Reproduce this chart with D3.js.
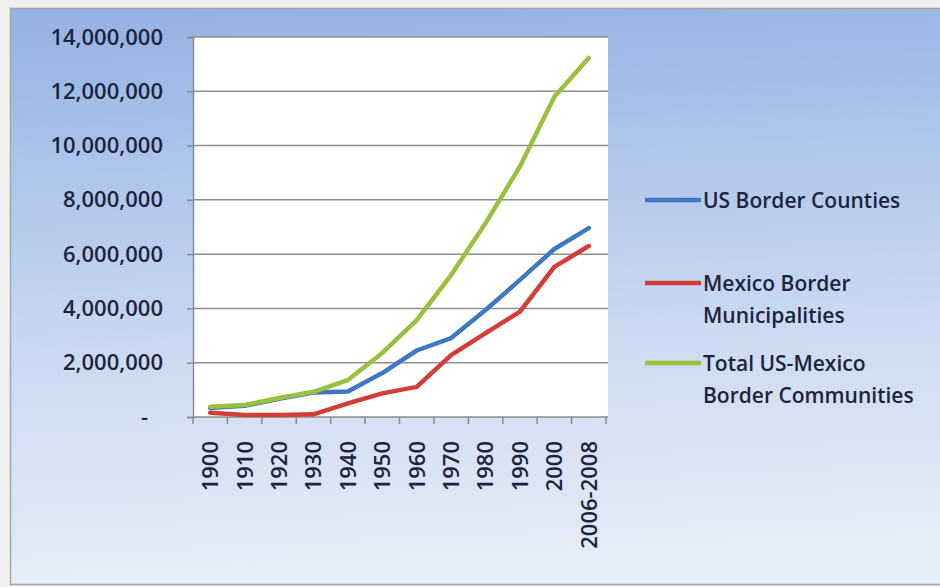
<!DOCTYPE html>
<html>
<head>
<meta charset="utf-8">
<script src="https://cdn.jsdelivr.net/npm/d3@7"></script>
<style>
  html, body { margin: 0; padding: 0; background: #f0f0f0; }
  svg { display: block; }
  text { font-family: "Open Sans", "Noto Sans", sans-serif; fill: #1c2440; font-weight: 600; }
</style>
</head>
<body>
<svg id="chart" width="940" height="587"></svg>
<script>
// Population of the US-Mexico border region, 1900 to 2006-2008
const years = ["1900", "1910", "1920", "1930", "1940", "1950", "1960", "1970", "1980", "1990", "2000", "2006-2008"];
const usBorderCounties = [330000, 410000, 670000, 900000, 940000, 1620000, 2450000, 2910000, 3940000, 5050000, 6190000, 6960000];
const mexicoBorderMunicipalities = [160000, 70000, 70000, 100000, 500000, 870000, 1110000, 2280000, 3090000, 3880000, 5530000, 6300000];
const totalBorderCommunities = [380000, 440000, 700000, 930000, 1360000, 2360000, 3570000, 5230000, 7140000, 9230000, 11800000, 13230000];

const yTickValues = [0, 2000000, 4000000, 6000000, 8000000, 10000000, 12000000, 14000000];
const yTickLabels = ["-", "2,000,000", "4,000,000", "6,000,000", "8,000,000", "10,000,000", "12,000,000", "14,000,000"];

const seriesNames = ["US Border Counties", "Mexico Border Municipalities", "Total US-Mexico Border Communities"];
const legendLines = [["US Border Counties"], ["Mexico Border", "Municipalities"], ["Total US-Mexico", "Border Communities"]];
const seriesColors = ["#3f78c2", "#d43c36", "#99c03e"];

const series = [usBorderCounties, mexicoBorderMunicipalities, totalBorderCommunities].map((vals, i) => ({
  name: seriesNames[i],
  color: seriesColors[i],
  legend: legendLines[i],
  values: vals.map((v, j) => ({ year: years[j], value: v }))
}));

const svg = d3.select("#chart");

// chart background with a soft blue-to-white gradient
const defs = svg.append("defs");
const grad = defs.append("linearGradient")
  .attr("id", "bg").attr("x1", 0).attr("y1", 0).attr("x2", 0.08).attr("y2", 1);
[[0, "#93b1e3"], [0.3, "#afc5eb"], [0.6, "#cbd9f1"], [1, "#e6ecf7"]].forEach(([o, c]) =>
  grad.append("stop").attr("offset", o).attr("stop-color", c));

svg.append("rect")
  .attr("x", 10.5).attr("y", 8.5).attr("width", 940).attr("height", 576)
  .attr("fill", "url(#bg)").attr("stroke", "#a3a7ad").attr("stroke-width", 1.5);

// plot area
const plot = { left: 193, right: 608, top: 37, bottom: 417 };

const x = d3.scaleBand().domain(years).range([plot.left, 606]);
const y = d3.scaleLinear().domain([0, 14000000]).range([plot.bottom, plot.top]);

svg.append("rect")
  .attr("x", plot.left).attr("y", plot.top)
  .attr("width", plot.right - plot.left).attr("height", plot.bottom - plot.top)
  .attr("fill", "#ffffff");

// horizontal gridlines
svg.append("g")
  .selectAll("line")
  .data(yTickValues.filter(v => v > 0))
  .join("line")
  .attr("x1", plot.left).attr("x2", plot.right)
  .attr("y1", d => y(d)).attr("y2", d => y(d))
  .attr("stroke", "#8e8e8e").attr("stroke-width", 1.5);

// y axis
const yAxis = svg.append("g")
  .attr("transform", `translate(${plot.left},0)`)
  .call(d3.axisLeft(y)
    .tickValues(yTickValues)
    .tickFormat((d, i) => yTickLabels[i])
    .tickSize(6)
    .tickPadding(24));
yAxis.select(".domain").attr("stroke", "#8a8a8a").attr("stroke-width", 1.5);
yAxis.selectAll(".tick line").attr("stroke", "#8a8a8a").attr("stroke-width", 1.5);
yAxis.selectAll(".tick text")
  .attr("font-size", 22).attr("fill", "#1c2440")
  .attr("dx", d => d === 0 ? -15 : 0)
  .style("font-family", '"Open Sans", sans-serif')
  .style("font-weight", 600);

// x axis: ticks on category boundaries, rotated labels at category centres
const xAxisG = svg.append("g").attr("transform", `translate(0,${plot.bottom})`);
xAxisG.append("line")
  .attr("x1", plot.left).attr("x2", plot.right)
  .attr("stroke", "#8a8a8a").attr("stroke-width", 1.5);
const boundaries = years.map(d => x(d)).concat([x(years[years.length - 1]) + x.bandwidth()]);
xAxisG.selectAll("line.tick")
  .data(boundaries)
  .join("line")
  .attr("class", "tick")
  .attr("x1", d => d).attr("x2", d => d)
  .attr("y1", 0).attr("y2", 7)
  .attr("stroke", "#8a8a8a").attr("stroke-width", 1.5);
xAxisG.selectAll("text")
  .data(years)
  .join("text")
  .attr("transform", d => `translate(${x(d) + x.bandwidth() / 2},24) rotate(-90)`)
  .attr("text-anchor", "end")
  .attr("dy", "0.36em")
  .attr("font-size", 22)
  .text(d => d);

// series lines
const line = d3.line()
  .x(d => x(d.year) + x.bandwidth() / 2)
  .y(d => y(d.value));

svg.append("g")
  .selectAll("path")
  .data(series)
  .join("path")
  .attr("d", d => line(d.values))
  .attr("fill", "none")
  .attr("stroke", d => d.color)
  .attr("stroke-width", 4.5)
  .attr("stroke-linejoin", "round")
  .attr("stroke-linecap", "round");

// legend
const legendRowY = [200, 283, 363];
const legend = svg.append("g");
series.forEach((s, i) => {
  const g = legend.append("g").attr("transform", `translate(645,${legendRowY[i]})`);
  g.append("line")
    .attr("x1", 0).attr("x2", 56)
    .attr("stroke", s.color).attr("stroke-width", 4.5);
  g.append("text")
    .attr("x", 58)
    .attr("font-size", 21)
    .selectAll("tspan")
    .data(s.legend)
    .join("tspan")
    .attr("x", 58)
    .attr("y", (d, k) => k * 32)
    .attr("dy", "0.36em")
    .text(d => d);
});
</script>
</body>
</html>
